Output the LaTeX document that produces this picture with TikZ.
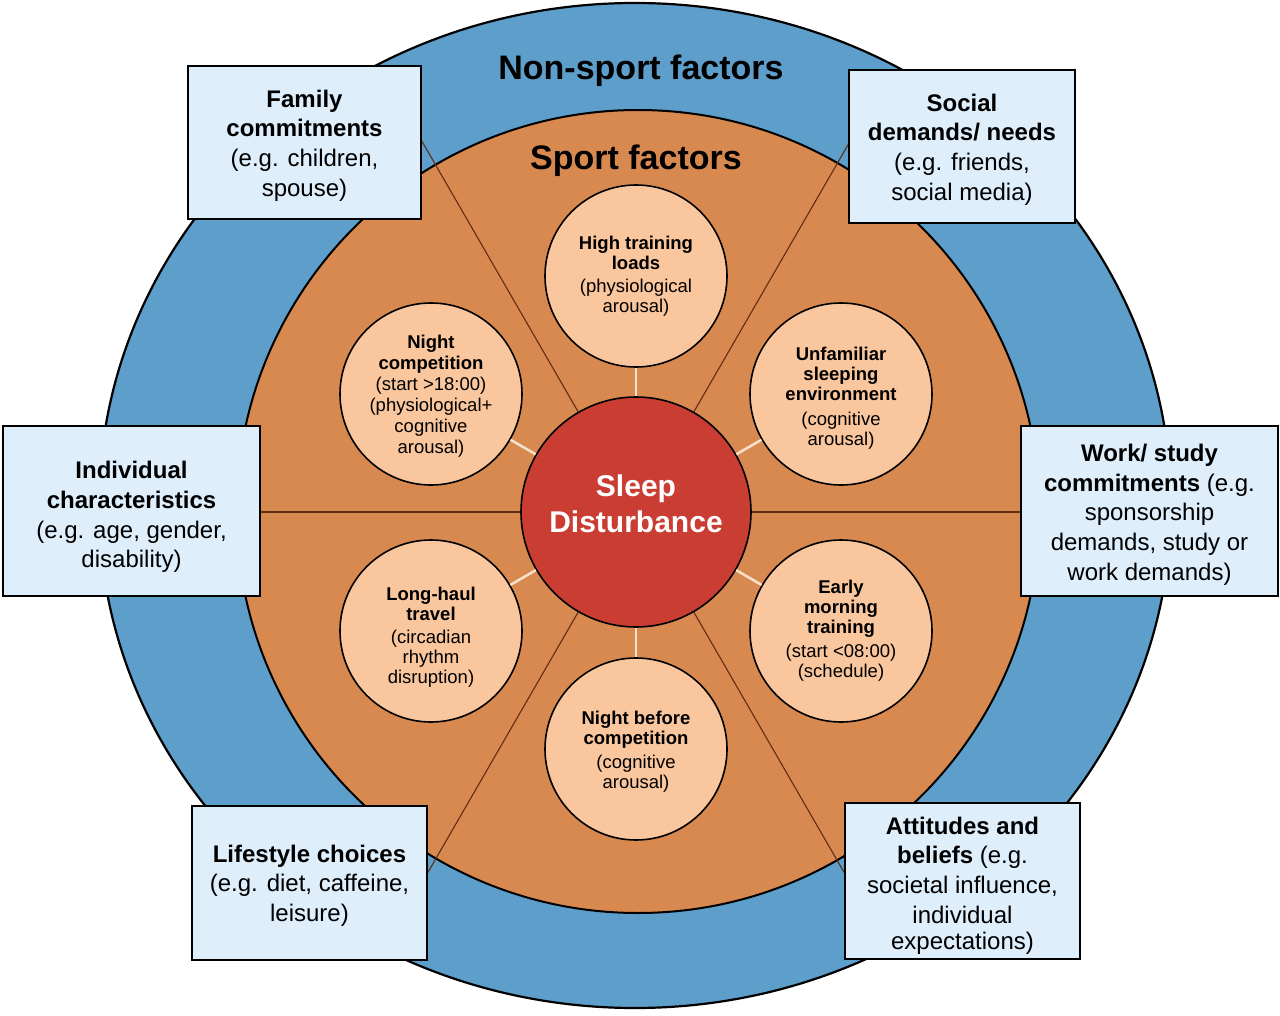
\documentclass[tikz,border=0pt]{standalone}
\usepackage{fontspec}
\setmainfont{Liberation Sans}
\usetikzlibrary{calc}
\definecolor{ringblue}{RGB}{94,158,203}
\definecolor{ringorange}{RGB}{215,137,80}
\definecolor{peach}{RGB}{249,198,157}
\definecolor{sdred}{RGB}{201,61,50}
\definecolor{boxblue}{RGB}{222,238,251}
\definecolor{divbrown}{RGB}{95,45,20}
\definecolor{linkcream}{RGB}{248,225,203}
\newcommand\topgap[1]{\rule{0pt}{#1}}
\begin{document}
\begin{tikzpicture}[x=1pt,y=-1pt,
  factorbox/.style={rectangle, draw=black, line width=1.6pt, fill=boxblue, inner sep=0pt, align=center, font=\fontsize{24}{29.7}\selectfont},
  sportcirc/.style={circle, draw=black, line width=1.6pt, fill=peach, minimum size=182pt, inner sep=0pt, align=center, font=\fontsize{18.5}{20}\selectfont},
  sdcirc/.style={circle, draw=black, line width=1.6pt, fill=sdred, minimum size=230pt, inner sep=0pt, align=center, text=white, font=\fontsize{30}{36}\selectfont\bfseries},
  divline/.style={draw=divbrown, line width=1.1pt},
  link/.style={draw=linkcream, line width=2.5pt},
  ringtitle/.style={font=\fontsize{34}{40}\selectfont\bfseries, anchor=base, inner sep=0pt}
]
\useasboundingbox (0,0) rectangle (1280,1016);
\fill[white] (0,0) rectangle (1280,1016);
% rings
\draw[fill=ringblue, line width=2.2pt] (635,505.5) ellipse [x radius=536, y radius=502.5];
\draw[fill=ringorange, line width=2pt] (638,511.5) circle [radius=401.5];
% central node
\node[sdcirc, text depth=16pt] (sd) at (636,512) {Sleep\\Disturbance};
% sport factors
\node[sportcirc] (hi) at (636,276) {\textbf{High training}\\\textbf{loads}\\[3pt](physiological\\arousal)};
\node[sportcirc, font=\fontsize{18.5}{21}\selectfont] (nc) at (431,394) {\topgap{17.5pt}\textbf{Night}\\\textbf{competition}\\(start >18:00)\\(physiological+\\cognitive\\arousal)};
\node[sportcirc] (un) at (841,394) {\topgap{21.5pt}\textbf{Unfamiliar}\\\textbf{sleeping}\\\textbf{environment}\\[5pt](cognitive\\arousal)};
\node[sportcirc] (lh) at (431,631) {\topgap{25.5pt}\textbf{Long-haul}\\\textbf{travel}\\[3pt](circadian\\rhythm\\disruption)};
\node[sportcirc] (em) at (841,631) {\textbf{Early}\\\textbf{morning}\\\textbf{training}\\[4pt](start <08:00)\\(schedule)};
\node[sportcirc] (nb) at (636,749) {\topgap{18.5pt}\textbf{Night before}\\\textbf{competition}\\[4pt](cognitive\\arousal)};
% links
\foreach \n in {hi,nc,un,lh,em,nb} \draw[link] (\n) -- (sd);
% dividing lines
\coordinate (dUL) at (416,131);
\coordinate (dUR) at (856,131);
\coordinate (dL) at (250,512);
\coordinate (dR) at (1030,512);
\coordinate (dDL) at (416,893);
\coordinate (dDR) at (856,893);
\foreach \c in {dUL,dUR,dL,dR,dDL,dDR} \draw[divline] (sd) -- (\c);
% non-sport factor boxes
\node[factorbox, minimum width=233pt, minimum height=153pt] (fam) at (304.5,142.5) {\topgap{23.5pt}\textbf{Family}\\\textbf{commitments}\\(e.g. children,\\spouse)};
\node[factorbox, minimum width=226pt, minimum height=153pt] (soc) at (962,146.5) {\topgap{23.5pt}\textbf{Social}\\\textbf{demands/ needs}\\(e.g. friends,\\social media)};
\node[factorbox, minimum width=257pt, minimum height=170pt] (ind) at (131.5,511) {\topgap{29.5pt}\textbf{Individual}\\\textbf{characteristics}\\(e.g. age, gender,\\disability)};
\node[factorbox, minimum width=257pt, minimum height=170pt] (wrk) at (1149.5,511) {\topgap{24.5pt}\textbf{Work/ study}\\\textbf{commitments} (e.g.\\sponsorship\\demands, study or\\work demands)};
\node[factorbox, minimum width=235pt, minimum height=154pt] (life) at (309.5,883) {\topgap{22.5pt}\textbf{Lifestyle choices}\\(e.g. diet, caffeine,\\leisure)};
\node[factorbox, minimum width=235pt, minimum height=156pt] (att) at (962.5,881) {\topgap{27pt}\textbf{Attitudes and}\\\textbf{beliefs} (e.g.\\societal influence,\\individual\\[-3pt]expectations)};
% titles
\node[ringtitle] (nst) at (641,80) {Non-sport factors};
\node[ringtitle] (st) at (636,170) {Sport factors};
\end{tikzpicture}
\end{document}
